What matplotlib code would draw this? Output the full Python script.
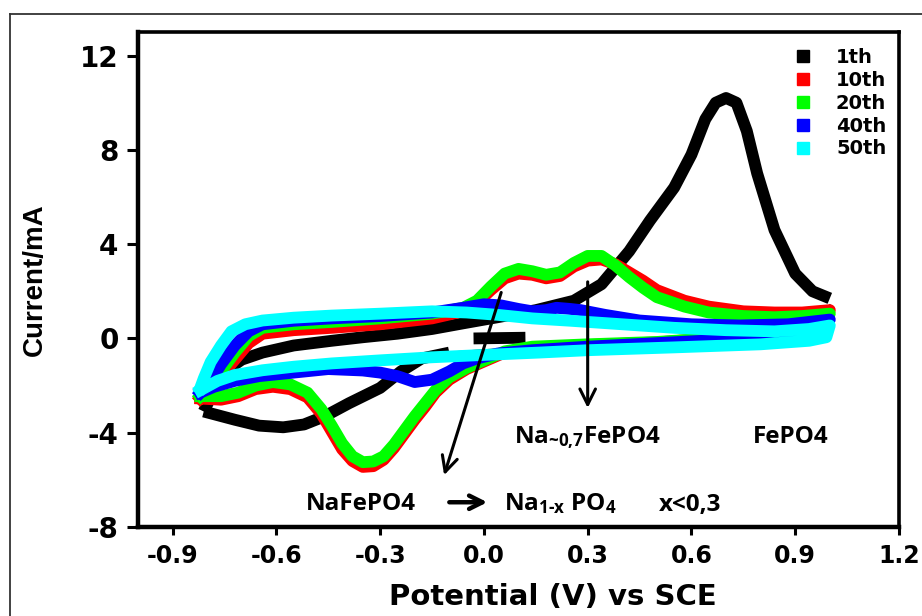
import numpy as np
import matplotlib
matplotlib.use("Agg")
from matplotlib import pyplot as plt
from matplotlib.lines import Line2D

# cycle 1 (black) - forward sweep with the big FePO4 peak
v_1th_fwd = [-0.81, -0.78, -0.75, -0.70, -0.64, -0.55, -0.44, -0.35, -0.25, -0.15, -0.06, 0.04, 0.15,
             0.26, 0.34, 0.42, 0.48, 0.55, 0.60, 0.64, 0.67, 0.70, 0.73, 0.76, 0.79, 0.84, 0.90, 0.95, 1.00]
i_1th_fwd = [-3.1, -2.2, -1.4, -0.9, -0.6, -0.3, -0.1, 0.05, 0.2, 0.4, 0.64, 0.9, 1.2,
             1.6, 2.3, 3.7, 5.0, 6.4, 7.8, 9.3, 10.0, 10.2, 10.0, 8.8, 7.0, 4.6, 2.75, 2.0, 1.7]
# cycle 1 - reverse sweep (thin part then thick part)
v_1th_rev_thin = [1.00, 0.99, 0.50, 0.00, -0.10]
i_1th_rev_thin = [1.4, 0.35, -0.1, -0.5, -0.6]
v_1th_rev = [-0.10, -0.18, -0.24, -0.30, -0.39, -0.46, -0.52, -0.58, -0.65, -0.72, -0.81]
i_1th_rev = [-0.6, -0.85, -1.4, -2.1, -2.75, -3.3, -3.65, -3.77, -3.7, -3.45, -3.1]
# starting point of the scan
v_1th_start = [-0.03, 0.12]
i_1th_start = [0.0, 0.03]

# cycles 10 and 20 share the same potential grid
v_mid_fwd = [-0.82, -0.79, -0.76, -0.72, -0.68, -0.64, -0.55, -0.44, -0.30, -0.15, -0.06, -0.02, 0.02, 0.06,
             0.10, 0.14, 0.18, 0.22, 0.26, 0.30, 0.34, 0.38, 0.42, 0.46, 0.50, 0.58, 0.65, 0.75, 0.84, 0.92, 1.00]
v_mid_rev = [1.00, 0.98, 0.90, 0.70, 0.50, 0.30, 0.14, 0.06, 0.00, -0.05, -0.10, -0.14, -0.17, -0.20, -0.23,
             -0.26, -0.29, -0.32, -0.35, -0.38, -0.41, -0.44, -0.47, -0.51, -0.56, -0.61, -0.66, -0.71, -0.76, -0.82]
i_10th_fwd = [-2.55, -2.15, -1.6, -0.9, -0.2, 0.2, 0.35, 0.45, 0.6, 0.85, 1.15, 1.5, 2.05, 2.55,
              2.75, 2.7, 2.55, 2.65, 3.05, 3.3, 3.35, 3.15, 2.8, 2.45, 2.05, 1.6, 1.35, 1.15, 1.1, 1.1, 1.2]
i_10th_rev = [1.2, 0.55, 0.32, 0.05, -0.17, -0.28, -0.4, -0.6, -0.98, -1.3, -1.75, -2.3, -2.9, -3.45, -4.05,
              -4.65, -5.15, -5.42, -5.45, -5.2, -4.7, -3.95, -3.2, -2.5, -2.15, -2.05, -2.15, -2.45, -2.6, -2.55]
i_20th_fwd = [-2.45, -2.0, -1.4, -0.6, 0.1, 0.45, 0.6, 0.7, 0.85, 1.05, 1.3, 1.6, 2.2, 2.75,
              2.95, 2.85, 2.7, 2.8, 3.2, 3.5, 3.5, 3.1, 2.6, 2.15, 1.75, 1.35, 1.1, 0.95, 0.9, 0.95, 1.05]
i_20th_rev = [1.05, 0.5, 0.3, 0.05, -0.15, -0.25, -0.35, -0.55, -0.93, -1.25, -1.65, -2.2, -2.75, -3.3, -3.9,
              -4.5, -5.0, -5.22, -5.25, -5.0, -4.45, -3.7, -3.0, -2.3, -1.95, -1.85, -2.0, -2.3, -2.45, -2.45]

# cycle 40 (blue)
v_40th_fwd = [-0.82, -0.79, -0.76, -0.72, -0.68, -0.64, -0.55, -0.44, -0.30, -0.15, -0.06, 0.00, 0.05,
              0.10, 0.14, 0.18, 0.21, 0.25, 0.28, 0.35, 0.45, 0.60, 0.74, 0.88, 1.00]
i_40th_fwd = [-2.3, -1.8, -1.1, -0.3, 0.3, 0.6, 0.75, 0.85, 0.95, 1.1, 1.3, 1.45, 1.4,
              1.25, 1.15, 1.2, 1.3, 1.25, 1.2, 1.0, 0.76, 0.6, 0.55, 0.6, 0.8]
v_40th_rev = [1.00, 0.98, 0.90, 0.70, 0.50, 0.30, 0.14, 0.04, -0.02, -0.06, -0.10, -0.15, -0.20, -0.25,
              -0.30, -0.35, -0.45, -0.55, -0.65, -0.72, -0.78, -0.82]
i_40th_rev = [0.8, 0.4, 0.15, -0.05, -0.2, -0.35, -0.5, -0.64, -0.85, -1.06, -1.4, -1.75, -1.85, -1.6,
              -1.45, -1.36, -1.3, -1.45, -1.6, -1.8, -2.05, -2.3]

# cycle 50 (cyan)
v_50th_fwd = [-0.82, -0.81, -0.79, -0.76, -0.73, -0.69, -0.64, -0.55, -0.44, -0.30, -0.15, -0.05, 0.04,
              0.14, 0.25, 0.40, 0.55, 0.70, 0.84, 0.94, 1.00]
i_50th_fwd = [-2.1, -1.7, -1.0, -0.3, 0.3, 0.6, 0.76, 0.88, 0.97, 1.05, 1.15, 1.1, 1.0,
              0.85, 0.75, 0.6, 0.45, 0.35, 0.3, 0.4, 0.55]
v_50th_rev = [1.00, 0.99, 0.94, 0.80, 0.55, 0.30, 0.16, 0.00, -0.15, -0.30, -0.44, -0.55, -0.64, -0.72, -0.77, -0.82]
i_50th_rev = [0.55, 0.05, -0.1, -0.25, -0.38, -0.5, -0.6, -0.7, -0.8, -0.93, -1.06, -1.2, -1.35, -1.55, -1.8, -2.2]

cycle_labels = ['1th', '10th', '20th', '40th', '50th']
cycle_colors = ['#000000', '#ff0000', '#00ff00', '#0000ff', '#00ffff']

x_ticks = [-0.9, -0.6, -0.3, 0.0, 0.3, 0.6, 0.9, 1.2]
y_ticks = [-8, -4, 0, 4, 8, 12]

plt.rcParams['mathtext.fontset'] = 'custom'
plt.rcParams['mathtext.rm'] = 'Open Sans:bold'
plt.rcParams['mathtext.it'] = 'Open Sans:bold'
plt.rcParams['mathtext.bf'] = 'Open Sans:bold'

fig = plt.figure(figsize=(9.22, 6.16), dpi=100)
ax = fig.add_axes([138 / 922, 1 - 527 / 616, (899 - 138) / 922, (527 - 32) / 616])

# outer frame of the original picture
fig.add_artist(Line2D([10 / 922, 10 / 922], [-0.1, 1 - 14 / 616], transform=fig.transFigure, color='#333333', lw=1.3))
fig.add_artist(Line2D([10 / 922, 1.1], [1 - 14 / 616, 1 - 14 / 616], transform=fig.transFigure, color='#333333', lw=1.3))

lw = 8.5
ax.plot(v_1th_fwd, i_1th_fwd, color=cycle_colors[0], lw=lw, solid_capstyle='butt', solid_joinstyle='round', zorder=2)
ax.plot(v_1th_rev, i_1th_rev, color=cycle_colors[0], lw=lw, solid_capstyle='butt', solid_joinstyle='round', zorder=2)
ax.plot(v_1th_rev_thin, i_1th_rev_thin, color=cycle_colors[0], lw=1.5, zorder=2)
ax.plot(v_1th_start, i_1th_start, color=cycle_colors[0], lw=lw, solid_capstyle='butt', zorder=2)

ax.plot(v_mid_fwd + v_mid_rev, i_10th_fwd + i_10th_rev, color=cycle_colors[1], lw=lw, solid_joinstyle='round', zorder=3)
ax.plot(v_mid_fwd + v_mid_rev, i_20th_fwd + i_20th_rev, color=cycle_colors[2], lw=lw, solid_joinstyle='round', zorder=4)
ax.plot(v_40th_fwd + v_40th_rev, i_40th_fwd + i_40th_rev, color=cycle_colors[3], lw=lw, solid_joinstyle='round', zorder=5)
ax.plot(v_50th_fwd + v_50th_rev, i_50th_fwd + i_50th_rev, color=cycle_colors[4], lw=lw, solid_joinstyle='round', zorder=6)

# arrows
arrow_kw = dict(arrowstyle='->', color='black', lw=2.2, mutation_scale=28, shrinkA=0, shrinkB=0)
ax.annotate('', xy=(-0.115, -5.8), xytext=(0.05, 1.95), arrowprops=arrow_kw, zorder=8)
ax.annotate('', xy=(0.30, -2.95), xytext=(0.30, 2.4), arrowprops=arrow_kw, zorder=8)
ax.annotate('', xy=(0.01, -6.95), xytext=(-0.10, -6.95),
            arrowprops=dict(arrowstyle='->', color='black', lw=3.2, mutation_scale=24, shrinkA=0, shrinkB=0), zorder=8)

note_kw = dict(family='Open Sans', fontweight='bold', fontsize=17.5, ha='left', va='baseline', zorder=9)
ax.text(0.087, -4.45, r'Na$_{\text{~0,7}}$FePO4', **note_kw)
ax.text(0.777, -4.45, 'FePO4', **note_kw)
ax.text(-0.514, -7.3, 'NaFePO4', **note_kw)
ax.text(0.058, -7.3, r'Na$_{1\text{-}x}$ PO$_4$', **note_kw)
ax.text(0.506, -7.3, 'x<0,3', **note_kw)

ax.set_xlim(-1.0, 1.2)
ax.set_ylim(-8, 13)
ax.set_xticks(x_ticks)
ax.set_xticklabels(['%.1f' % t for t in x_ticks], family='DejaVu Sans', fontweight='bold', fontsize=17)
ax.set_yticks(y_ticks)
ax.set_yticklabels([str(t) for t in y_ticks], family='DejaVu Sans', fontweight='bold', fontsize=20)
ax.tick_params(axis='x', direction='out', length=6, width=2.2, pad=6)
ax.tick_params(axis='y', direction='out', length=8, width=2.2, pad=6)
for side in ['left', 'bottom']:
    ax.spines[side].set_linewidth(3.2)
for side in ['top', 'right']:
    ax.spines[side].set_linewidth(2.6)

ax.set_xlabel('Potential (V) vs SCE', family='DejaVu Sans', fontweight='bold', fontsize=21)
ax.xaxis.set_label_coords(0.545, -0.114)
ax.set_ylabel('Current/mA', family='Liberation Sans', fontweight='bold', fontsize=20)
ax.yaxis.set_label_coords(-0.118, 0.5)

handles = [Line2D([], [], marker='s', ls='none', color=c, markersize=8) for c in cycle_colors]
ax.legend(handles, cycle_labels, loc='upper left', bbox_to_anchor=(0.861, 0.968), frameon=False,
          prop={'family': 'DejaVu Sans', 'weight': 'bold', 'size': 14},
          handlelength=1.0, handletextpad=1.2, labelspacing=0.2, borderpad=0, borderaxespad=0)

plt.savefig('out.png', dpi=100)
